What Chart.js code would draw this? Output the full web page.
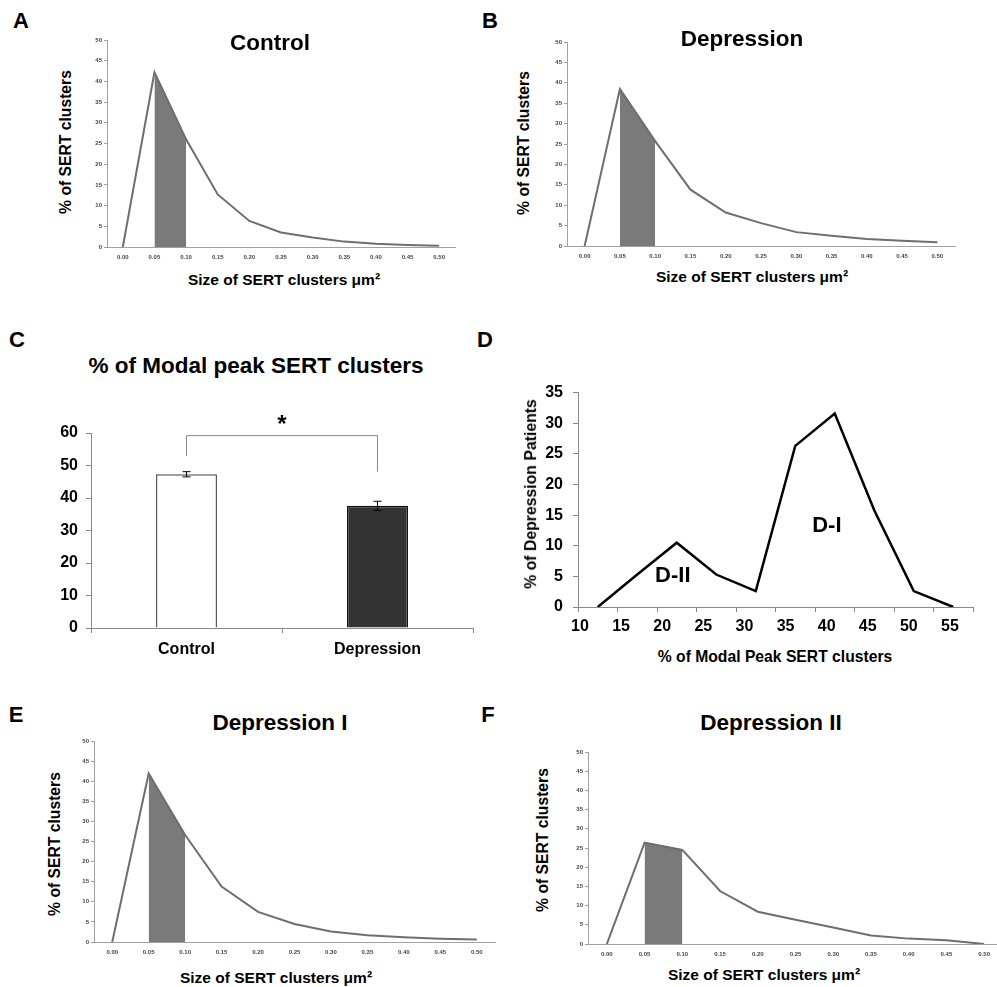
<!DOCTYPE html>
<html lang="en">
<head>
  <meta charset="UTF-8">
  <title>SERT cluster size distributions</title>
  <script src="https://cdn.jsdelivr.net/npm/chart.js"></script>
  <style>
    html, body { margin: 0; padding: 0; width: 997px; height: 987px; overflow: hidden; background: #fff; }
    body { position: relative; font-family: 'Liberation Sans', Arial, sans-serif; }
    canvas { position: absolute; }
    .lbl { position: absolute; font-weight: bold; white-space: nowrap; line-height: 1; color: #000;
           transform: translate(-50%, -50%); }
    .rot { transform: translate(-50%, -50%) rotate(-90deg); }
  </style>
</head>
<body>
  <script>
    // A, B, E, F - size distribution of SERT clusters (% of clusters per size bin)
    const sizeLabels = ['0.00', '0.05', '0.10', '0.15', '0.20', '0.25', '0.30', '0.35', '0.40', '0.45', '0.50'];
    const controlPct = [0, 42.2, 26, 12.7, 6.3, 3.5, 2.3, 1.3, 0.8, 0.5, 0.3];
    const depressionPct = [0, 38.5, 25.7, 13.8, 8.2, 5.6, 3.4, 2.5, 1.7, 1.3, 0.9];
    const depIPct = [0, 41.9, 26.6, 13.8, 7.5, 4.5, 2.6, 1.7, 1.2, 0.8, 0.6];
    const depIIPct = [0, 26.4, 24.5, 13.8, 8.4, 6.3, 4.3, 2.2, 1.4, 1.0, 0];
    const modalBins = ['0.05', '0.10'];   // shaded modal peak

    // C - % of modal peak SERT clusters
    const groupLabels = ['Control', 'Depression'];
    const modalMeans = [47.3, 37.6];
    const modalErrors = [0.8, 1.4];

    // D - distribution of depression patients
    const binLabels = ['10', '15', '20', '25', '30', '35', '40', '45', '50', '55'];
    const patientPct = [0, 5.3, 10.5, 5.3, 2.6, 26.3, 31.6, 15.8, 2.6, 0];

    Chart.defaults.font.family = "'Liberation Sans', Arial, sans-serif";
    Chart.defaults.animation = false;
    Chart.defaults.responsive = false;
    Chart.defaults.plugins.legend.display = false;
    Chart.defaults.plugins.tooltip.enabled = false;

    function addText(txt, x, y, size, rotated) {
      const d = document.createElement('div');
      d.className = rotated ? 'lbl rot' : 'lbl';
      d.style.left = x + 'px';
      d.style.top = y + 'px';
      d.style.fontSize = size + 'px';
      d.textContent = txt;
      document.body.appendChild(d);
    }

    // canvas placed so that the plot area lands on `area`
    function makeCanvas(area, pad) {
      const c = document.createElement('canvas');
      c.width = area.right - area.left + pad.left + pad.right;
      c.height = area.bottom - area.top + pad.top + pad.bottom;
      c.style.left = (area.left - pad.left) + 'px';
      c.style.top = (area.top - pad.top) + 'px';
      document.body.appendChild(c);
      return c;
    }

    function sizeChart(area, values) {
      const pad = { left: 30, right: 6, top: 6, bottom: 20 };
      const shade = values.map((v, i) => modalBins.includes(sizeLabels[i]) ? v : null);
      new Chart(makeCanvas(area, pad), {
        type: 'line',
        data: {
          labels: sizeLabels,
          datasets: [
            { data: values, borderColor: '#6e6e6e', borderWidth: 2, pointRadius: 0, fill: false, order: 0 },
            { data: shade, borderColor: '#555', borderWidth: 1, backgroundColor: '#7a7a7a',
              pointRadius: 0, fill: 'origin', order: 1 }
          ]
        },
        options: {
          layout: { padding: { top: pad.top, right: pad.right, left: 0, bottom: 0 } },
          scales: {
            x: {
              offset: true,
              grid: { display: false, drawTicks: false },
              border: { color: '#a0a0a0' },
              ticks: { font: { size: 6, weight: 'bold' }, color: '#444', padding: 7, autoSkip: false, maxRotation: 0 },
              afterFit: s => { s.height = pad.bottom; }
            },
            y: {
              min: 0, max: 50,
              ticks: { stepSize: 5, font: { size: 6, weight: 'bold' }, color: '#444', padding: 2 },
              grid: { drawOnChartArea: false, tickLength: 3, color: '#a0a0a0' },
              border: { color: '#a0a0a0' },
              afterFit: s => { s.width = pad.left; }
            }
          }
        }
      });
    }

    sizeChart({ left: 107, right: 455, top: 40, bottom: 247 }, controlPct);
    sizeChart({ left: 567, right: 955, top: 42, bottom: 246 }, depressionPct);
    sizeChart({ left: 94, right: 495, top: 741, bottom: 942 }, depIPct);
    sizeChart({ left: 588, right: 1003, top: 752, bottom: 944 }, depIIPct);

    // C - bars with error bars and significance bracket
    const errorBracket = {
      id: 'errorBracket',
      afterDatasetsDraw(chart) {
        const { ctx, scales: { x, y } } = chart;
        ctx.save();
        ctx.strokeStyle = '#000';
        ctx.lineWidth = 1;
        modalMeans.forEach((m, i) => {
          const px = x.getPixelForValue(i);
          const top = y.getPixelForValue(m + modalErrors[i]);
          const bot = y.getPixelForValue(m - modalErrors[i]);
          ctx.beginPath();
          ctx.moveTo(px, top); ctx.lineTo(px, bot);
          ctx.moveTo(px - 4, top); ctx.lineTo(px + 4, top);
          ctx.moveTo(px - 4, bot); ctx.lineTo(px + 4, bot);
          ctx.stroke();
        });
        const x0 = x.getPixelForValue(0), x1 = x.getPixelForValue(1);
        ctx.strokeStyle = '#888';
        ctx.beginPath();
        ctx.moveTo(x0, y.getPixelForValue(52.9));
        ctx.lineTo(x0, y.getPixelForValue(59.2));
        ctx.lineTo(x1, y.getPixelForValue(59.2));
        ctx.lineTo(x1, y.getPixelForValue(48.1));
        ctx.stroke();
        ctx.fillStyle = '#000';
        ctx.font = "bold 24px 'Liberation Sans', Arial, sans-serif";
        ctx.textAlign = 'center';
        ctx.textBaseline = 'middle';
        ctx.fillText('*', x.getPixelForValue(0.5), y.getPixelForValue(63.5) + 4);
        ctx.restore();
      }
    };

    const padC = { left: 40, right: 6, top: 26, bottom: 36 };
    new Chart(makeCanvas({ left: 91, right: 473, top: 433, bottom: 628 }, padC), {
      type: 'bar',
      data: {
        labels: groupLabels,
        datasets: [{
          data: modalMeans,
          backgroundColor: ['#ffffff', '#333333'],
          borderColor: ['#5a5a5a', '#111111'],
          borderWidth: 1.5,
          barPercentage: 0.32,
          categoryPercentage: 1
        }]
      },
      options: {
        layout: { padding: { top: padC.top, right: padC.right, left: 0, bottom: 0 } },
        scales: {
          x: {
            offset: true,
            grid: { offset: true, drawOnChartArea: false, tickLength: 5, color: '#888' },
            border: { color: '#888' },
            ticks: { font: { size: 16, weight: 'bold' }, color: '#000', padding: 7 },
            afterFit: s => { s.height = padC.bottom; }
          },
          y: {
            min: 0, max: 60,
            ticks: { stepSize: 10, font: { size: 16, weight: 'bold' }, color: '#000', padding: 8 },
            grid: { drawOnChartArea: false, tickLength: 5, color: '#888' },
            border: { color: '#888' },
            afterFit: s => { s.width = padC.left; }
          }
        }
      },
      plugins: [errorBracket]
    });

    // D - bimodal distribution, labels D-II / D-I
    const groupNames = {
      id: 'groupNames',
      afterDatasetsDraw(chart) {
        const { ctx, scales: { x, y } } = chart;
        ctx.save();
        ctx.fillStyle = '#000';
        ctx.font = "bold 22px 'Liberation Sans', Arial, sans-serif";
        ctx.textAlign = 'center';
        ctx.textBaseline = 'middle';
        ctx.fillText('D-II', x.getPixelForValue(1.9), y.getPixelForValue(5));
        ctx.fillText('D-I', x.getPixelForValue(5.8), y.getPixelForValue(13.2));
        ctx.restore();
      }
    };

    const padD = { left: 45, right: 20, top: 8, bottom: 30 };
    new Chart(makeCanvas({ left: 578, right: 973, top: 381, bottom: 607 }, padD), {
      type: 'line',
      data: {
        labels: binLabels,
        datasets: [{ data: patientPct, borderColor: '#000', borderWidth: 2.5, pointRadius: 0, fill: false }]
      },
      options: {
        layout: { padding: { top: padD.top, right: padD.right, left: 0, bottom: 0 } },
        scales: {
          x: {
            offset: true,
            grid: { offset: true, drawOnChartArea: false, tickLength: 5, color: '#888' },
            border: { color: '#888' },
            ticks: { display: false },
            afterFit: s => { s.height = 5; }
          },
          xLabels: {
            type: 'linear', position: 'bottom', weight: 1,
            min: 9.76, max: 57.8,
            grid: { display: false, drawTicks: false },
            border: { display: false },
            ticks: { font: { size: 16, weight: 'bold' }, color: '#000', padding: 5 },
            afterBuildTicks: s => { s.ticks = binLabels.map(v => ({ value: Number(v) })); },
            afterFit: s => { s.height = padD.bottom - 5; }
          },
          y: {
            min: 0, max: 35,
            ticks: { stepSize: 5, font: { size: 16, weight: 'bold' }, color: '#000', padding: 10 },
            grid: { drawOnChartArea: false, tickLength: 5, color: '#888' },
            border: { color: '#888' },
            afterFit: s => { s.width = padD.left; }
          }
        }
      },
      plugins: [groupNames]
    });

    // panel letters, titles and axis titles
    addText('A', 21, 21, 22); addText('B', 490, 21, 22);
    addText('C', 17, 340, 22); addText('D', 485, 340, 22);
    addText('E', 16, 715, 22); addText('F', 488, 715, 22);

    addText('Control', 270, 43, 22.5);
    addText('Depression', 742, 39, 22.5);
    addText('% of Modal peak SERT clusters', 256, 366, 22.5);
    addText('Depression I', 280, 723, 22.5);
    addText('Depression II', 771, 723, 22.5);

    addText('% of SERT clusters', 66, 142, 15.7, true);
    addText('% of SERT clusters', 524, 143, 15.7, true);
    addText('% of SERT clusters', 55, 844, 15.7, true);
    addText('% of SERT clusters', 543, 840, 15.7, true);
    addText('% of Depression Patients', 531, 494, 15.8, true);

    addText('Size of SERT clusters μm²', 284, 280, 15.5);
    addText('Size of SERT clusters μm²', 752, 277, 15.5);
    addText('Size of SERT clusters μm²', 276, 978, 15.5);
    addText('Size of SERT clusters μm²', 764, 975, 15.5);
    addText('% of Modal Peak SERT clusters', 775, 657, 15.7);
  </script>
</body>
</html>
